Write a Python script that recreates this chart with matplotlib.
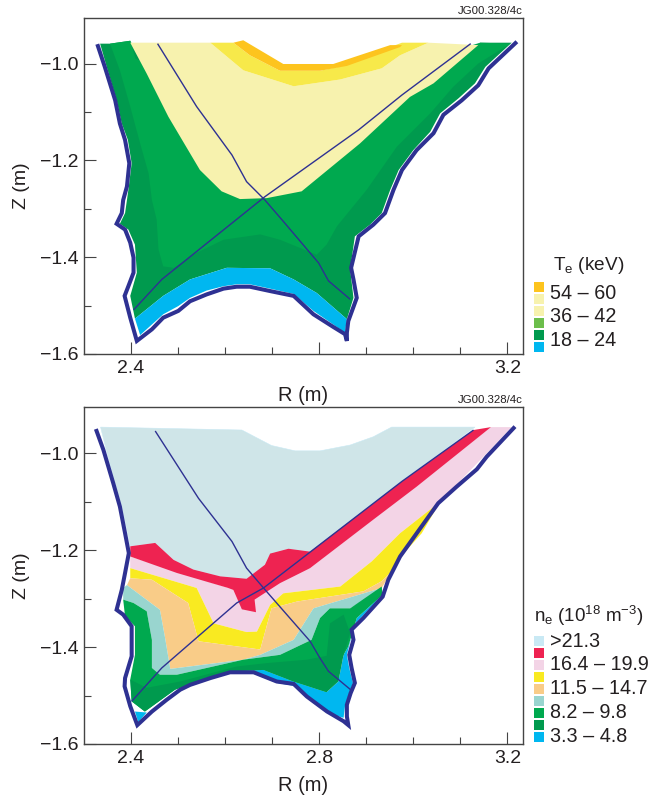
"""Te and ne contour maps in the divertor region, two panels."""

import numpy as np
import matplotlib
matplotlib.use("Agg")
import matplotlib.pyplot as plt
from matplotlib.patches import Rectangle

plt.rcParams["font.family"] = ["Liberation Sans", "DejaVu Sans"]
plt.rcParams["mathtext.fontset"] = "custom"
plt.rcParams["mathtext.rm"] = "Liberation Sans"
plt.rcParams["mathtext.default"] = "rm"

# colours
C_WALL = "#2E3192"
C_TEXT = "#231F20"
C_ORANGE = "#FDC41E"
C_YELLOW = "#F7E94A"
C_PALE = "#F7F2AE"
C_LGREEN = "#6CBE4B"
C_GREEN = "#00A94F"
C_DGREEN = "#009A4E"
C_BLUE = "#00B7F0"
C_ICE = "#CFE5E8"
C_ICE_KEY = "#C9E9F4"
C_RED = "#EE2351"
C_PINK = "#F3D4E6"
C_NYELLOW = "#F9EA21"
C_PEACH = "#F9CC88"
C_TEAL = "#99D5CF"

# axis ticks
R_LIM = (2.3008, 3.233)
Z_LIM_TOP = (-1.6, -0.906)
Z_LIM_BOT = (-1.6, -0.9045)
Z_TICKS = [-1.0, -1.2, -1.4, -1.6]
Z_TICK_LABELS = ["\u22121.0", "\u22121.2", "\u22121.4", "\u22121.6"]
R_TICKS = [2.4, 2.8, 3.2]
R_LABELS_TOP = ["2.4", "", "3.2"]
R_LABELS_BOT = ["2.4", "2.8", "3.2"]

# legends
TE_KEY_COLORS = [C_ORANGE, C_PALE, C_PALE, C_LGREEN, C_DGREEN, C_BLUE]
TE_KEY_LABELS = ["54 \u2013 60", "36 \u2013 42", "18 \u2013 24"]
NE_KEY_COLORS = [C_ICE_KEY, C_RED, C_PINK, C_NYELLOW, C_PEACH, C_TEAL, C_GREEN, C_DGREEN, C_BLUE]
NE_KEY_LABELS = [">21.3", "16.4 \u2013 19.9", "11.5 \u2013 14.7", "8.2 \u2013 9.8", "3.3 \u2013 4.8"]

# (R, Z) outlines, top panel
WALL_TOP = [(2.329, -0.960), (2.345, -1.007), (2.367, -1.076), (2.377, -1.124), (2.388, -1.158),
            (2.397, -1.206), (2.392, -1.254), (2.384, -1.282), (2.381, -1.309), (2.370, -1.331),
            (2.388, -1.343), (2.399, -1.370), (2.406, -1.401), (2.406, -1.432), (2.395, -1.460),
            (2.387, -1.480), (2.399, -1.525), (2.413, -1.573), (2.445, -1.549), (2.469, -1.525),
            (2.501, -1.511), (2.526, -1.491), (2.561, -1.477), (2.597, -1.465), (2.625, -1.461),
            (2.653, -1.461), (2.696, -1.470), (2.746, -1.480), (2.788, -1.518), (2.830, -1.544),
            (2.855, -1.559), (2.859, -1.573), (2.859, -1.556), (2.862, -1.532), (2.880, -1.484),
            (2.873, -1.446), (2.868, -1.422), (2.884, -1.357), (2.915, -1.333), (2.940, -1.309),
            (2.958, -1.261), (2.976, -1.220), (3.007, -1.179), (3.043, -1.144), (3.064, -1.106),
            (3.103, -1.076), (3.138, -1.045), (3.160, -1.010), (3.220, -0.955)]
SIGHT1_TOP = [(2.457, -0.959), (2.540, -1.089), (2.615, -1.189), (2.646, -1.244), (2.685, -1.282),
              (2.724, -1.326), (2.799, -1.412), (2.820, -1.449), (2.866, -1.487)]
SIGHT2_TOP = [(3.122, -0.959), (2.976, -1.065), (2.884, -1.137), (2.685, -1.275), (2.466, -1.446),
              (2.406, -1.509)]
TE_DGREEN = [(2.335, -0.959), (2.349, -1.007), (2.370, -1.076), (2.381, -1.124), (2.394, -1.158),
             (2.402, -1.206), (2.396, -1.254), (2.392, -1.282), (2.388, -1.309), (2.377, -1.331),
             (2.395, -1.343), (2.409, -1.374), (2.413, -1.432), (2.399, -1.480), (2.409, -1.527),
             (2.469, -1.480), (2.526, -1.446), (2.604, -1.422), (2.696, -1.423), (2.746, -1.446),
             (2.795, -1.474), (2.859, -1.528), (2.873, -1.484), (2.866, -1.425), (2.876, -1.357),
             (2.908, -1.333), (2.933, -1.309), (2.951, -1.261), (2.969, -1.220), (3.000, -1.179),
             (3.036, -1.141), (3.057, -1.103), (3.096, -1.072), (3.131, -1.041), (3.153, -1.007),
             (3.209, -0.957), (3.142, -0.957), (2.933, -1.100), (2.746, -1.100), (2.480, -1.100),
             (2.399, -0.953), (2.356, -0.959)]
TE_GREEN = [(2.356, -0.959), (2.399, -0.953), (2.410, -0.990), (2.600, -1.060), (2.900, -1.060),
            (3.000, -1.000), (3.142, -0.957), (3.206, -0.959), (3.138, -1.000), (3.085, -1.048),
            (3.036, -1.103), (2.965, -1.172), (2.901, -1.261), (2.838, -1.336), (2.816, -1.374),
            (2.795, -1.395), (2.717, -1.364), (2.675, -1.353), (2.597, -1.364), (2.540, -1.391),
            (2.491, -1.422), (2.469, -1.419), (2.459, -1.384), (2.455, -1.322), (2.445, -1.282),
            (2.438, -1.227), (2.420, -1.165), (2.399, -1.089), (2.377, -1.014)]
TE_PALE = [(2.399, -0.957), (2.569, -0.957), (2.639, -1.014), (2.746, -1.047), (2.845, -1.033),
           (2.933, -1.010), (2.972, -0.983), (3.032, -0.957), (3.138, -0.962), (3.043, -1.041),
           (2.993, -1.069), (2.887, -1.165), (2.763, -1.264), (2.689, -1.278), (2.632, -1.280),
           (2.593, -1.264), (2.547, -1.220), (2.480, -1.110), (2.434, -1.021)]
TE_YELLOW = [(2.569, -0.957), (2.639, -1.014), (2.746, -1.047), (2.845, -1.033), (2.933, -1.010),
             (2.972, -0.983), (3.032, -0.957), (2.976, -0.957), (2.951, -0.966), (2.859, -1.003),
             (2.802, -1.015), (2.717, -1.015), (2.653, -0.983), (2.618, -0.957)]
TE_ORANGE = [(2.618, -0.957), (2.639, -0.952), (2.724, -1.001), (2.830, -1.001), (2.951, -0.962),
             (2.976, -0.962), (2.972, -0.966), (2.859, -1.005), (2.802, -1.015), (2.717, -1.015),
             (2.653, -0.983)]
TE_BLUE = [(2.409, -1.527), (2.469, -1.480), (2.526, -1.446), (2.604, -1.422), (2.696, -1.423),
           (2.746, -1.446), (2.795, -1.474), (2.859, -1.528), (2.855, -1.556), (2.830, -1.539),
           (2.788, -1.511), (2.746, -1.476), (2.696, -1.465), (2.653, -1.456), (2.625, -1.456),
           (2.597, -1.460), (2.561, -1.469), (2.526, -1.484), (2.501, -1.501), (2.469, -1.518),
           (2.445, -1.539), (2.420, -1.561)]

# (R, Z) outlines, bottom panel
WALL_BOT = [(2.326, -0.950), (2.342, -0.993), (2.363, -1.062), (2.377, -1.110), (2.388, -1.165),
            (2.396, -1.206), (2.388, -1.247), (2.381, -1.282), (2.370, -1.323), (2.384, -1.333),
            (2.402, -1.357), (2.402, -1.419), (2.388, -1.464), (2.387, -1.481), (2.399, -1.522),
            (2.414, -1.561), (2.445, -1.533), (2.476, -1.509), (2.505, -1.488), (2.526, -1.478),
            (2.569, -1.464), (2.611, -1.452), (2.661, -1.452), (2.710, -1.471), (2.746, -1.476),
            (2.774, -1.502), (2.817, -1.533), (2.852, -1.553), (2.862, -1.561), (2.859, -1.543),
            (2.859, -1.519), (2.867, -1.495), (2.876, -1.474), (2.869, -1.443), (2.864, -1.416),
            (2.873, -1.385), (2.869, -1.364), (2.894, -1.340), (2.935, -1.296), (2.947, -1.261),
            (2.972, -1.213), (3.000, -1.175), (3.053, -1.103), (3.092, -1.069), (3.135, -1.033),
            (3.156, -1.007), (3.216, -0.945)]
SIGHT1_BOT = [(2.452, -0.954), (2.544, -1.093), (2.615, -1.182), (2.646, -1.237), (2.682, -1.278),
              (2.763, -1.368), (2.781, -1.388), (2.802, -1.423), (2.820, -1.450), (2.867, -1.488)]
SIGHT2_BOT = [(3.128, -0.952), (2.976, -1.058), (2.682, -1.278), (2.625, -1.309), (2.466, -1.443),
              (2.402, -1.512)]
NE_ICE = [(2.336, -0.946), (2.636, -0.952), (2.699, -0.984), (2.749, -0.995), (2.802, -0.995),
          (2.866, -0.983), (2.915, -0.966), (2.954, -0.946), (3.131, -0.946), (2.976, -1.058),
          (2.781, -1.203), (2.735, -1.197), (2.696, -1.207), (2.685, -1.230), (2.646, -1.259),
          (2.590, -1.254), (2.533, -1.240), (2.491, -1.220), (2.452, -1.185), (2.399, -1.192),
          (2.392, -1.158), (2.381, -1.110), (2.367, -1.062), (2.348, -0.993)]
NE_RED = [(2.399, -1.192), (2.452, -1.185), (2.491, -1.220), (2.533, -1.240), (2.590, -1.254),
          (2.646, -1.259), (2.685, -1.230), (2.696, -1.207), (2.735, -1.197), (2.781, -1.203),
          (2.976, -1.058), (3.128, -0.952), (3.165, -0.946), (3.007, -1.069), (2.915, -1.137),
          (2.781, -1.237), (2.717, -1.268), (2.663, -1.302), (2.666, -1.328), (2.636, -1.322),
          (2.618, -1.282), (2.607, -1.278), (2.498, -1.247), (2.399, -1.213)]
NE_PINK = [(3.165, -0.946), (3.209, -0.946), (3.149, -1.007), (3.057, -1.100), (2.972, -1.165),
           (2.912, -1.223), (2.845, -1.275), (2.724, -1.289), (2.696, -1.313), (2.668, -1.368),
           (2.646, -1.369), (2.576, -1.351), (2.540, -1.278), (2.399, -1.237), (2.399, -1.213),
           (2.607, -1.278), (2.781, -1.237)]
NE_YELLOW = [(3.057, -1.100), (3.018, -1.165), (2.983, -1.203), (2.954, -1.244), (2.933, -1.264),
             (2.894, -1.285), (2.753, -1.306), (2.699, -1.320), (2.675, -1.405), (2.544, -1.388),
             (2.522, -1.309), (2.445, -1.261), (2.399, -1.258), (2.399, -1.237), (2.540, -1.278),
             (2.576, -1.351), (2.646, -1.369), (2.668, -1.368), (2.696, -1.313), (2.724, -1.289),
             (2.845, -1.275), (2.912, -1.223), (2.972, -1.165)]
NE_PEACH = [(2.399, -1.258), (2.445, -1.261), (2.522, -1.309), (2.544, -1.388), (2.675, -1.405),
            (2.699, -1.320), (2.753, -1.306), (2.894, -1.285), (2.933, -1.264), (2.954, -1.244),
            (2.933, -1.278), (2.788, -1.320), (2.746, -1.385), (2.675, -1.416), (2.639, -1.426),
            (2.484, -1.445), (2.473, -1.381), (2.462, -1.323), (2.392, -1.272)]
NE_TEAL = [(2.392, -1.272), (2.462, -1.323), (2.473, -1.381), (2.484, -1.445), (2.639, -1.426),
           (2.675, -1.416), (2.746, -1.385), (2.788, -1.320), (2.933, -1.278), (2.930, -1.282),
           (2.866, -1.320), (2.823, -1.320), (2.802, -1.340), (2.784, -1.385), (2.717, -1.416),
           (2.639, -1.426), (2.498, -1.457), (2.462, -1.457), (2.445, -1.443), (2.445, -1.385),
           (2.434, -1.326), (2.406, -1.309), (2.384, -1.302), (2.384, -1.278)]
NE_GREEN = [(2.384, -1.302), (2.406, -1.309), (2.434, -1.326), (2.445, -1.385), (2.445, -1.443),
            (2.462, -1.457), (2.498, -1.457), (2.639, -1.426), (2.717, -1.416), (2.784, -1.385),
            (2.802, -1.340), (2.823, -1.320), (2.866, -1.320), (2.933, -1.275), (2.935, -1.292),
            (2.880, -1.340), (2.862, -1.399), (2.852, -1.416), (2.816, -1.493), (2.746, -1.471),
            (2.682, -1.447), (2.618, -1.450), (2.554, -1.467), (2.494, -1.488), (2.430, -1.533),
            (2.402, -1.512), (2.399, -1.467), (2.409, -1.416), (2.409, -1.357), (2.388, -1.337)]
NE_DGREEN = [(2.402, -1.512), (2.430, -1.533), (2.494, -1.488), (2.554, -1.467), (2.618, -1.450),
             (2.682, -1.447), (2.746, -1.471), (2.816, -1.493), (2.841, -1.471), (2.852, -1.416),
             (2.866, -1.371), (2.852, -1.333), (2.823, -1.351), (2.816, -1.418), (2.774, -1.426),
             (2.689, -1.433), (2.625, -1.440), (2.505, -1.471), (2.434, -1.484), (2.399, -1.467)]
NE_BLUE_R = [(2.935, -1.292), (2.880, -1.340), (2.862, -1.399), (2.852, -1.416), (2.841, -1.471),
             (2.816, -1.493), (2.746, -1.471), (2.682, -1.447), (2.618, -1.450), (2.618, -1.454),
             (2.661, -1.455), (2.710, -1.474), (2.746, -1.480), (2.774, -1.505), (2.816, -1.536),
             (2.852, -1.546), (2.855, -1.522), (2.864, -1.495), (2.872, -1.474), (2.864, -1.443),
             (2.859, -1.416), (2.867, -1.385), (2.864, -1.364), (2.891, -1.337)]
NE_BLUE_L = [(2.409, -1.533), (2.434, -1.535), (2.416, -1.555)]


def fill_region(ax, outline, color, edge="none"):
    pts = np.array(outline)
    ax.fill(pts[:, 0], pts[:, 1], facecolor=color, edgecolor=edge, linewidth=0.4 if edge != "none" else 0)


def draw_line(ax, outline, width, color=C_WALL):
    pts = np.array(outline)
    ax.plot(pts[:, 0], pts[:, 1], color=color, linewidth=width, solid_joinstyle="miter",
            solid_capstyle="butt")


def style_axes(ax, zlim, rlabels):
    ax.set_xlim(*R_LIM)
    ax.set_ylim(*zlim)
    ax.set_xticks(R_TICKS)
    ax.set_xticklabels(rlabels)
    ax.set_yticks(Z_TICKS)
    ax.set_yticklabels(Z_TICK_LABELS)
    ax.set_xticks([2.5, 2.6, 2.7, 2.9, 3.0, 3.1], minor=True)
    ax.set_yticks([-1.1, -1.3, -1.5], minor=True)
    ax.tick_params(which="major", direction="in", length=8.3, width=0.8, color="#444444",
                   labelsize=14, labelcolor=C_TEXT, pad=4)
    ax.tick_params(which="minor", direction="in", length=5, width=0.8, color="#444444")
    for spine in ax.spines.values():
        spine.set_color("#444444")
        spine.set_linewidth(1.0)
    ax.set_xlabel("R (m)", fontsize=14.5, color=C_TEXT, labelpad=6.5)
    ax.set_ylabel("Z (m)", fontsize=14, color=C_TEXT)
    ax.yaxis.set_label_coords(-0.123, 0.5)


W, H = 653, 798


def fig_box(px_left, px_top, px_right, px_bottom):
    return [px_left / W, 1 - px_bottom / H, (px_right - px_left) / W, (px_bottom - px_top) / H]


def draw_key(fig, colors, labels, top, step, text_ys):
    for i, color in enumerate(colors):
        y = top + i * step
        fig.patches.append(Rectangle((534 / W, 1 - (y + 10) / H), 10 / W, 10 / H, facecolor=color,
                                     edgecolor="none", transform=fig.transFigure))
    for label, y in zip(labels, text_ys):
        fig.text(550 / W, 1 - y / H, label, fontsize=14.2, color=C_TEXT, va="center", ha="left")


def main():
    fig = plt.figure(figsize=(W / 100, H / 100), dpi=100)

    ax = fig.add_axes(fig_box(84, 18, 523, 354))
    fill_region(ax, TE_DGREEN, C_DGREEN)
    fill_region(ax, TE_BLUE, C_BLUE)
    fill_region(ax, TE_GREEN, C_GREEN)
    fill_region(ax, TE_PALE, C_PALE)
    fill_region(ax, TE_YELLOW, C_YELLOW)
    fill_region(ax, TE_ORANGE, C_ORANGE)
    draw_line(ax, SIGHT1_TOP, 1.0)
    draw_line(ax, SIGHT2_TOP, 1.0)
    draw_line(ax, WALL_TOP, 2.9)
    style_axes(ax, Z_LIM_TOP, R_LABELS_TOP)

    ax = fig.add_axes(fig_box(84, 407, 523, 744))
    fill_region(ax, NE_ICE, C_ICE, edge=C_ICE_KEY)
    fill_region(ax, NE_PINK, C_PINK)
    fill_region(ax, NE_RED, C_RED)
    fill_region(ax, NE_YELLOW, C_NYELLOW)
    fill_region(ax, NE_PEACH, C_PEACH)
    fill_region(ax, NE_TEAL, C_TEAL)
    fill_region(ax, NE_BLUE_R, C_BLUE)
    fill_region(ax, NE_BLUE_L, C_BLUE)
    fill_region(ax, NE_GREEN, C_GREEN)
    fill_region(ax, NE_DGREEN, C_DGREEN)
    draw_line(ax, SIGHT1_BOT, 1.0)
    draw_line(ax, SIGHT2_BOT, 1.0)
    draw_line(ax, WALL_BOT, 2.9)
    style_axes(ax, Z_LIM_BOT, R_LABELS_BOT)

    # 图注
    draw_key(fig, TE_KEY_COLORS, TE_KEY_LABELS, 282, 11.9, [293, 316.5, 340])
    draw_key(fig, NE_KEY_COLORS, NE_KEY_LABELS, 635.5, 12.0, [641.5, 665, 688.5, 712.5, 736])
    fig.text(553 / W, 1 - 265 / H, "T$_{e}$ (keV)", fontsize=13.7, color=C_TEXT, va="center")
    fig.text(534 / W, 1 - 616 / H, "n$_{e}$ (10$^{18}$ m$^{\u22123}$)", fontsize=13.5,
             color=C_TEXT, va="center")

    fig.text(523 / W, 1 - 11.5 / H, "JG00.328/4c", fontsize=8.2, color=C_TEXT, ha="right", va="center")
    fig.text(523 / W, 1 - 400 / H, "JG00.328/4c", fontsize=8.2, color=C_TEXT, ha="right", va="center")

    fig.savefig("out.png", dpi=100)
    plt.close(fig)


if __name__ == "__main__":
    main()
